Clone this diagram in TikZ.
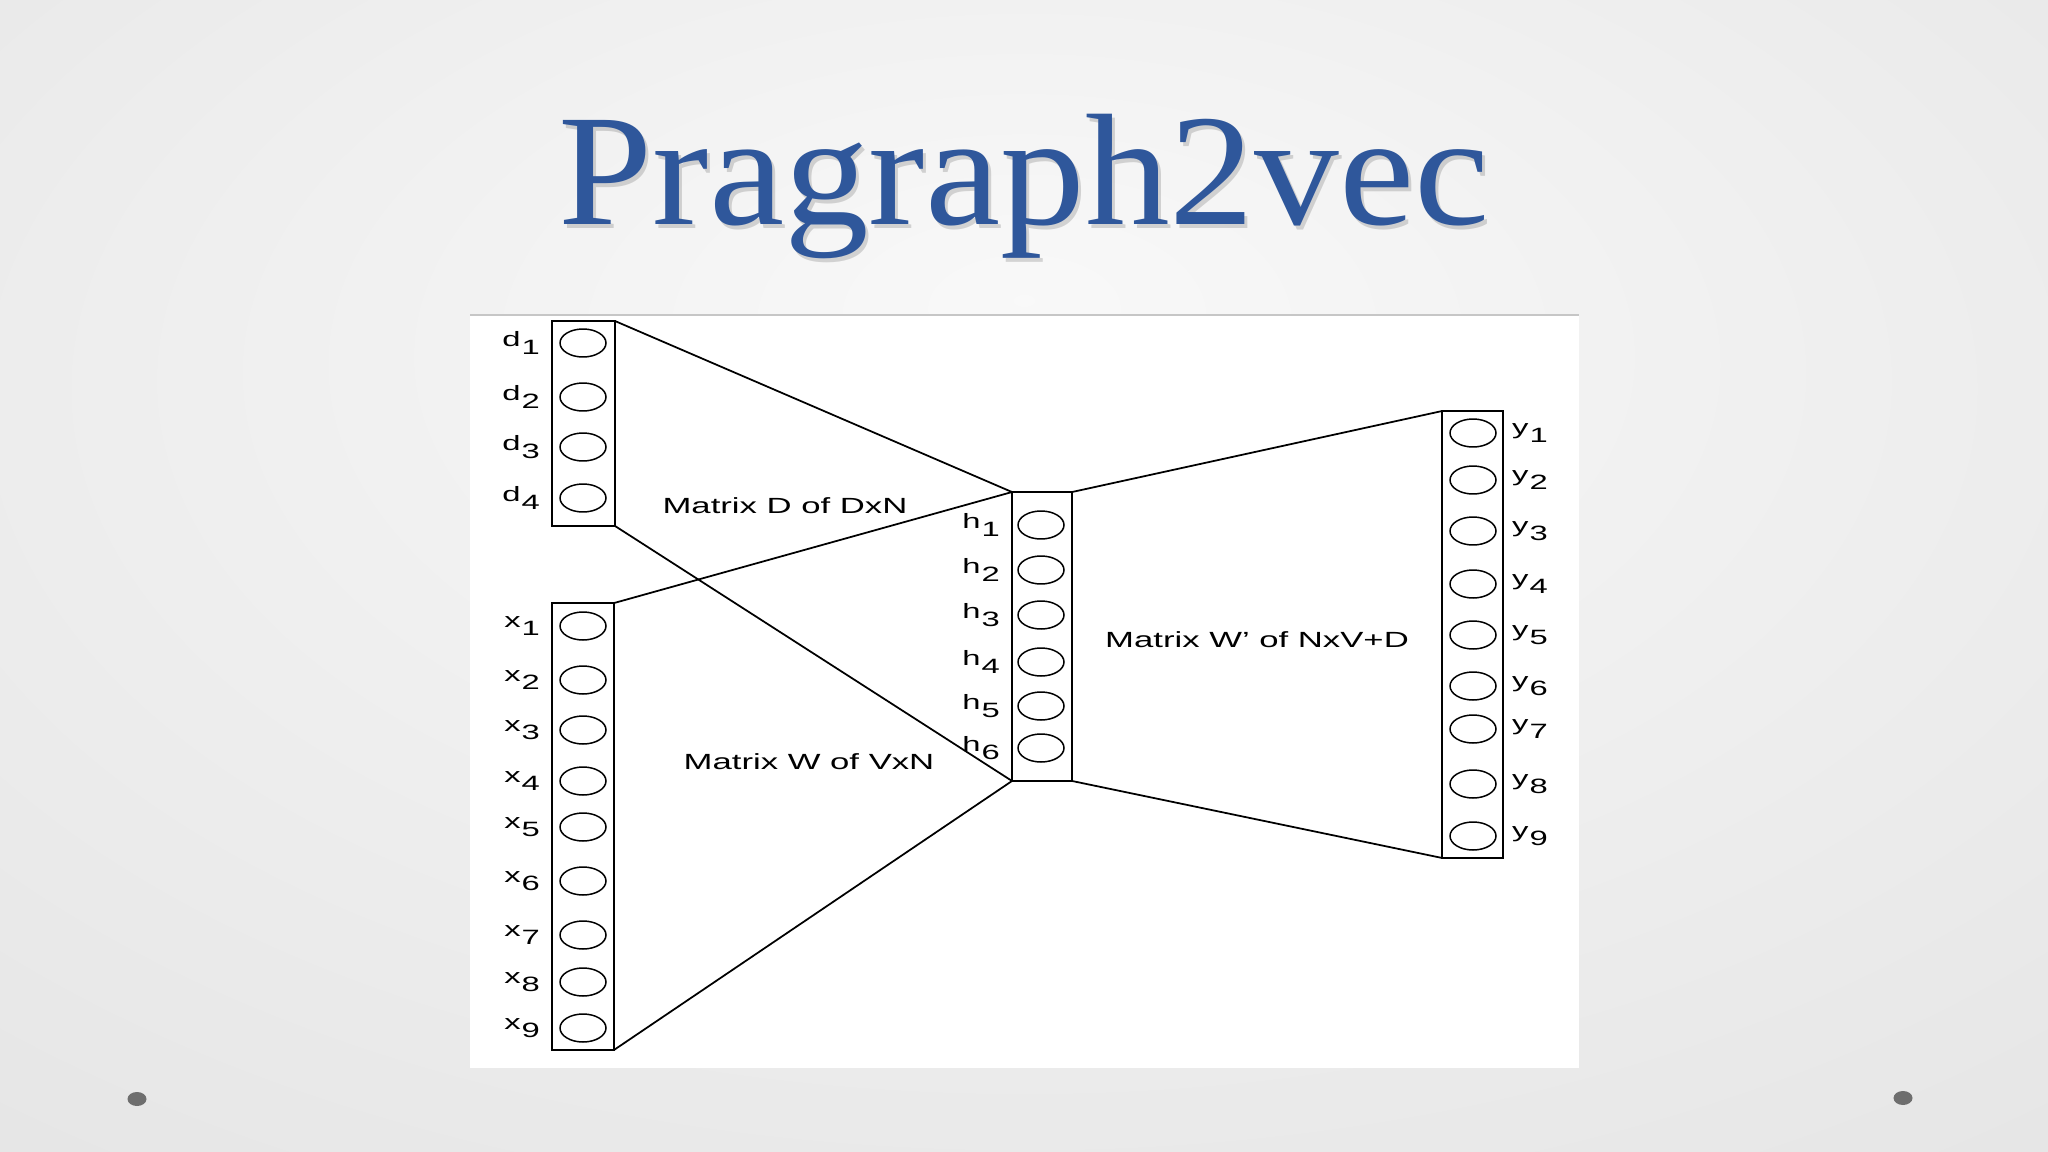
\documentclass[tikz,border=0pt]{standalone}
\usepackage{fontspec}
\usetikzlibrary{shapes.geometric}
\setmainfont{Liberation Sans}
\newfontfamily\figfont[FakeStretch=1.58]{Liberation Sans}
\newfontfamily\titlefont[FakeStretch=1.065]{Liberation Serif}
\definecolor{titleblue}{RGB}{47,87,155}
\definecolor{dotgray}{RGB}{110,110,110}
\pgfdeclareradialshading{slidebg}{\pgfpoint{0bp}{12bp}}{color(0bp)=(gray!5); color(72bp)=(gray!32)}
\newcommand{\idx}[2]{#1\kern0.05em\raisebox{-0.4em}{#2}}

\begin{document}
\begin{tikzpicture}
			[x=0.02cm,y=-0.02cm,
			neuron/.style={draw,ellipse,line width=0.85pt,minimum width=0.92cm,minimum height=0.56cm,inner sep=0pt},
			layer/.style={draw,rectangle,line width=1.1pt,inner sep=0pt,outer sep=0pt},
			lbl/.style={font=\figfont\fontsize{11.8}{12}\selectfont,inner sep=0pt},
			mtx/.style={font=\figfont\fontsize{12.5}{13}\selectfont,anchor=base,inner sep=0pt},
			wire/.style={line width=1pt},
			label distance=0.38cm]
			\useasboundingbox (0,0) rectangle (2048,1152);
			\shade[shading=slidebg] (0,0) rectangle (2048,1152);
			\fill[white] (470,315) rectangle (1579,1068);
			\draw[gray!45,line width=1.2pt] (470,315) -- (1579,315);
			\fill[dotgray] (137,1099) ellipse (0.19cm and 0.14cm);
			\fill[dotgray] (1903,1098) ellipse (0.19cm and 0.14cm);
			% title
			\node (shadow) at (1027,229)[anchor=base,font=\titlefont\fontsize{90.5}{92}\selectfont,text=black,opacity=0.15] {Pragraph2vec};
			\node (title) at (1024,225)[anchor=base,font=\titlefont\fontsize{90.5}{92}\selectfont,text=titleblue] {Pragraph2vec};
			% layers
			\node (D) at (583.5,423.5)[layer,minimum width=1.26cm,minimum height=4.1cm] {};
			\node (X) at (583,826.5)[layer,minimum width=1.24cm,minimum height=8.94cm] {};
			\node (H) at (1042,636.5)[layer,minimum width=1.2cm,minimum height=5.78cm] {};
			\node (Y) at (1472.5,634.5)[layer,minimum width=1.22cm,minimum height=8.94cm] {};
			% paragraph units
			\node (d1) at (583,343)[neuron,label={[lbl]left:\idx{d}{1}}] {};
			\node (d2) at (583,397)[neuron,label={[lbl]left:\idx{d}{2}}] {};
			\node (d3) at (583,447)[neuron,label={[lbl]left:\idx{d}{3}}] {};
			\node (d4) at (583,498)[neuron,label={[lbl]left:\idx{d}{4}}] {};
			% word units
			\node (x1) at (583,626)[neuron,label={[lbl]left:\idx{x}{1}}] {};
			\node (x2) at (583,680)[neuron,label={[lbl]left:\idx{x}{2}}] {};
			\node (x3) at (583,730)[neuron,label={[lbl]left:\idx{x}{3}}] {};
			\node (x4) at (583,781)[neuron,label={[lbl]left:\idx{x}{4}}] {};
			\node (x5) at (583,827)[neuron,label={[lbl]left:\idx{x}{5}}] {};
			\node (x6) at (583,881)[neuron,label={[lbl]left:\idx{x}{6}}] {};
			\node (x7) at (583,935)[neuron,label={[lbl]left:\idx{x}{7}}] {};
			\node (x8) at (583,982)[neuron,label={[lbl]left:\idx{x}{8}}] {};
			\node (x9) at (583,1028)[neuron,label={[lbl]left:\idx{x}{9}}] {};
			% hidden units
			\node (h1) at (1041,525)[neuron,label={[lbl,label distance=0.34cm]left:\idx{h}{1}}] {};
			\node (h2) at (1041,570)[neuron,label={[lbl,label distance=0.34cm]left:\idx{h}{2}}] {};
			\node (h3) at (1041,615)[neuron,label={[lbl,label distance=0.34cm]left:\idx{h}{3}}] {};
			\node (h4) at (1041,662)[neuron,label={[lbl,label distance=0.34cm]left:\idx{h}{4}}] {};
			\node (h5) at (1041,706)[neuron,label={[lbl,label distance=0.34cm]left:\idx{h}{5}}] {};
			\node (h6) at (1041,748)[neuron,label={[lbl,label distance=0.34cm]left:\idx{h}{6}}] {};
			% output units
			\node (y1) at (1473,433)[neuron,label={[lbl,label distance=0.3cm]right:\idx{y}{1}}] {};
			\node (y2) at (1473,480)[neuron,label={[lbl,label distance=0.3cm]right:\idx{y}{2}}] {};
			\node (y3) at (1473,531)[neuron,label={[lbl,label distance=0.3cm]right:\idx{y}{3}}] {};
			\node (y4) at (1473,584)[neuron,label={[lbl,label distance=0.3cm]right:\idx{y}{4}}] {};
			\node (y5) at (1473,635)[neuron,label={[lbl,label distance=0.3cm]right:\idx{y}{5}}] {};
			\node (y6) at (1473,686)[neuron,label={[lbl,label distance=0.3cm]right:\idx{y}{6}}] {};
			\node (y7) at (1473,729)[neuron,label={[lbl,label distance=0.3cm]right:\idx{y}{7}}] {};
			\node (y8) at (1473,784)[neuron,label={[lbl,label distance=0.3cm]right:\idx{y}{8}}] {};
			\node (y9) at (1473,836)[neuron,label={[lbl,label distance=0.3cm]right:\idx{y}{9}}] {};
			% matrices
			\draw[wire] (D.north east) -- (H.north west);
			\draw[wire] (D.south east) -- (H.south west);
			\draw[wire] (X.north east) -- (H.north west);
			\draw[wire] (X.south east) -- (H.south west);
			\draw[wire] (H.north east) -- (Y.north west);
			\draw[wire] (H.south east) -- (Y.south west);
			\node (mD) at (785,513)[mtx] {Matrix D of DxN};
			\node (mW) at (809,769)[mtx] {Matrix W of VxN};
			\node (mWp) at (1257,647)[mtx] {Matrix W’ of NxV+D};
			
	\end{tikzpicture}
\end{document}
